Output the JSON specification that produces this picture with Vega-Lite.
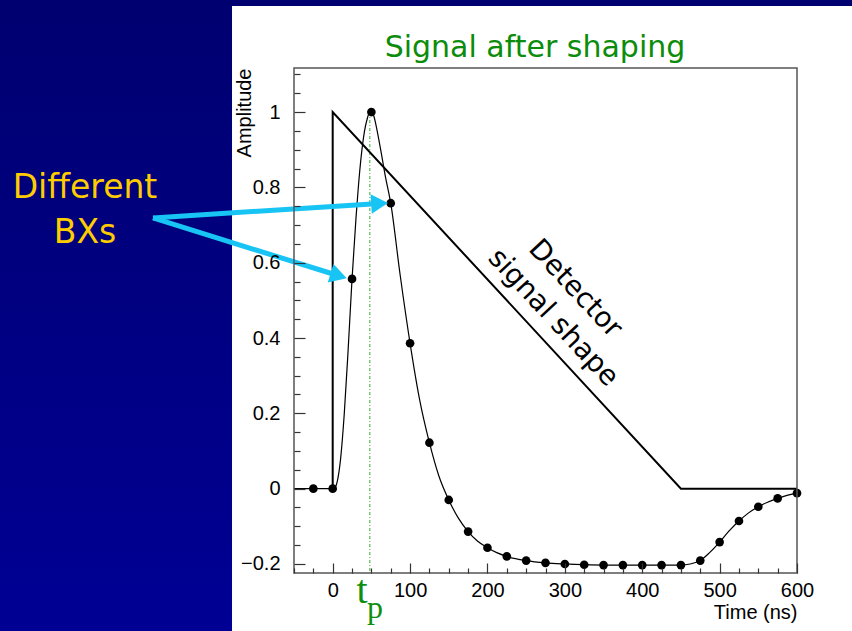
{
  "$schema": "https://vega.github.io/schema/vega-lite/v6.json",
  "width": 503,
  "height": 505,
  "autosize": {"type": "none"},
  "padding": {"left": 294, "top": 68, "right": 55, "bottom": 58},
  "background": "#000080",
  "config": {"view": {"stroke": null}},
  "resolve": {"axis": {"x": "independent", "y": "independent"}},
  "datasets": {
    "curve": [
      {"t": -50, "a": 0}, {"t": -25, "a": 0}, {"t": 0, "a": 0}, {"t": 3, "a": 0.003}, {"t": 6, "a": 0.02},
      {"t": 10, "a": 0.075}, {"t": 15, "a": 0.2}, {"t": 20, "a": 0.37}, {"t": 25, "a": 0.557}, {"t": 30, "a": 0.715},
      {"t": 35, "a": 0.845}, {"t": 40, "a": 0.935}, {"t": 45, "a": 0.985}, {"t": 48, "a": 1.0}, {"t": 50, "a": 1.0},
      {"t": 53, "a": 0.99}, {"t": 57, "a": 0.955}, {"t": 62, "a": 0.9}, {"t": 68, "a": 0.83}, {"t": 75, "a": 0.758},
      {"t": 87, "a": 0.57}, {"t": 100, "a": 0.386}, {"t": 112, "a": 0.24}, {"t": 125, "a": 0.122}, {"t": 137, "a": 0.035},
      {"t": 150, "a": -0.03}, {"t": 162, "a": -0.077}, {"t": 175, "a": -0.114}, {"t": 187, "a": -0.139}, {"t": 200, "a": -0.157},
      {"t": 212, "a": -0.17}, {"t": 225, "a": -0.18}, {"t": 250, "a": -0.191}, {"t": 275, "a": -0.197}, {"t": 300, "a": -0.2},
      {"t": 325, "a": -0.202}, {"t": 350, "a": -0.203}, {"t": 375, "a": -0.203}, {"t": 400, "a": -0.203}, {"t": 425, "a": -0.203},
      {"t": 450, "a": -0.203}, {"t": 462, "a": -0.2}, {"t": 475, "a": -0.191}, {"t": 487, "a": -0.17}, {"t": 500, "a": -0.142},
      {"t": 512, "a": -0.113}, {"t": 525, "a": -0.086}, {"t": 537, "a": -0.065}, {"t": 550, "a": -0.048}, {"t": 562, "a": -0.036},
      {"t": 575, "a": -0.026}, {"t": 587, "a": -0.018}, {"t": 600, "a": -0.012}
    ],
    "dots": [
      {"t": -25, "a": 0}, {"t": 0, "a": 0}, {"t": 25, "a": 0.557}, {"t": 50, "a": 1.0}, {"t": 75, "a": 0.758},
      {"t": 100, "a": 0.386}, {"t": 125, "a": 0.122}, {"t": 150, "a": -0.03}, {"t": 175, "a": -0.114}, {"t": 200, "a": -0.157},
      {"t": 225, "a": -0.18}, {"t": 250, "a": -0.191}, {"t": 275, "a": -0.197}, {"t": 300, "a": -0.2}, {"t": 325, "a": -0.202},
      {"t": 350, "a": -0.203}, {"t": 375, "a": -0.203}, {"t": 400, "a": -0.203}, {"t": 425, "a": -0.203}, {"t": 450, "a": -0.203},
      {"t": 475, "a": -0.191}, {"t": 500, "a": -0.142}, {"t": 525, "a": -0.086}, {"t": 550, "a": -0.048}, {"t": 575, "a": -0.026},
      {"t": 600, "a": -0.012}
    ],
    "detector": [
      {"t": 0, "a": 0, "o": 0}, {"t": 0, "a": 1, "o": 1}, {"t": 450, "a": 0, "o": 2}, {"t": 600, "a": 0, "o": 3}
    ]
  },
  "layer": [
    {
      "data": {"values": [{}]},
      "mark": {"type": "rect", "color": {"gradient": "linear", "x1": 0, "y1": 0, "x2": 0, "y2": 1, "stops": [{"offset": 0, "color": "#000070"}, {"offset": 1, "color": "#000094"}]}},
      "encoding": {
        "x": {"datum": -431, "type": "quantitative", "axis": null},
        "x2": {"datum": 671},
        "y": {"datum": 1.2977, "type": "quantitative", "axis": null},
        "y2": {"datum": -0.378}
      }
    },
    {
      "data": {"values": [{}]},
      "mark": {"type": "rect", "color": "#ffffff"},
      "encoding": {
        "x": {"datum": -130.1, "type": "quantitative", "axis": null},
        "x2": {"datum": 700},
        "y": {"datum": 1.2817, "type": "quantitative", "axis": null},
        "y2": {"datum": -0.5}
      }
    },
    {
      "data": {"values": [{}]},
      "mark": {"type": "rule", "color": "#33aa33", "strokeWidth": 1, "strokeDash": [3, 2, 1, 2]},
      "encoding": {
        "x": {"datum": 48, "type": "quantitative", "axis": null},
        "y": {"datum": 1.0, "type": "quantitative", "axis": null},
        "y2": {"datum": -0.224}
      }
    },
    {
      "data": {"name": "detector"},
      "mark": {"type": "line", "color": "#000000", "strokeWidth": 2},
      "encoding": {
        "x": {"field": "t", "type": "quantitative", "axis": null},
        "y": {"field": "a", "type": "quantitative", "axis": null},
        "order": {"field": "o", "type": "quantitative"}
      }
    },
    {
      "data": {"name": "curve"},
      "mark": {"type": "line", "color": "#000000", "strokeWidth": 1.2, "interpolate": "monotone"},
      "encoding": {
        "x": {
          "field": "t", "type": "quantitative",
          "scale": {"domain": [-50, 600], "nice": false, "zero": false},
          "axis": {
            "orient": "bottom",
            "values": [0, 100, 200, 300, 400, 500, 600],
            "format": "d",
            "tickSize": -10,
            "tickColor": "#333333", "tickWidth": 1.2, "domain": false, "grid": false,
            "labelFont": "Liberation Sans", "labelFontSize": 20, "labelColor": "#000000", "labelPadding": 17,
            "labelFlush": false, "labelOverlap": false, "labelBound": false,
            "title": "Time (ns)", "titleFont": "Liberation Sans", "titleFontSize": 20, "titleFontWeight": "normal",
            "titleColor": "#000000", "titleAnchor": "end", "titleAlign": "right", "titlePadding": 2, "zindex": 1
          }
        },
        "y": {
          "field": "a", "type": "quantitative",
          "scale": {"domain": [-0.224, 1.117], "nice": false, "zero": false},
          "axis": {
            "orient": "left",
            "values": [-0.2, 0, 0.2, 0.4, 0.6, 0.8, 1],
            "format": "~g",
            "tickSize": -11,
            "tickColor": "#333333", "tickWidth": 1.2, "domain": false, "grid": false,
            "labelFont": "Liberation Sans", "labelFontSize": 20, "labelColor": "#000000", "labelPadding": 25,
            "labelFlush": false, "labelOverlap": false, "labelBound": false,
            "title": "Amplitude", "titleFont": "Liberation Sans", "titleFontSize": 20, "titleFontWeight": "normal",
            "titleColor": "#000000", "titleAnchor": "end", "titleAlign": "right", "titleBaseline": "bottom", "titlePadding": -14, "zindex": 1
          }
        }
      }
    },
    {
      "data": {"name": "dots"},
      "mark": {"type": "point", "filled": true, "color": "#000000", "size": 75, "opacity": 1},
      "encoding": {
        "x": {
          "field": "t", "type": "quantitative",
          "axis": {
            "orient": "bottom",
            "values": [-50, -25, 25, 50, 75, 125, 150, 175, 225, 250, 275, 325, 350, 375, 425, 450, 475, 525, 550, 575],
            "tickSize": -5, "tickColor": "#333333", "tickWidth": 1.2,
            "domain": false, "grid": false, "labels": false, "title": null, "zindex": 1
          }
        },
        "y": {
          "field": "a", "type": "quantitative",
          "axis": {
            "orient": "left",
            "values": [-0.15, -0.1, -0.05, 0.05, 0.1, 0.15, 0.25, 0.3, 0.35, 0.45, 0.5, 0.55, 0.65, 0.7, 0.75, 0.85, 0.9, 0.95, 1.05, 1.1],
            "tickSize": -6, "tickColor": "#333333", "tickWidth": 1.2,
            "domain": false, "grid": false, "labels": false, "title": null, "zindex": 1
          }
        }
      }
    },
    {
      "data": {"values": [{}]},
      "mark": {"type": "text", "text": "Signal after shaping", "font": "DejaVu Sans", "fontSize": 30, "color": "#0b8c0b", "align": "center", "baseline": "alphabetic"},
      "encoding": {
        "x": {"datum": 261.4, "type": "quantitative", "axis": null},
        "y": {"datum": 1.1463, "type": "quantitative", "axis": null}
      }
    },
    {
      "data": {"values": [{}]},
      "mark": {"type": "text", "text": ["Different", "BXs"], "font": "DejaVu Sans", "fontSize": 33, "lineHeight": 45, "color": "#ffcc00", "align": "center", "baseline": "alphabetic"},
      "encoding": {
        "x": {"datum": -320.1, "type": "quantitative", "axis": null},
        "y": {"datum": 0.772, "type": "quantitative", "axis": null}
      }
    },
    {
      "data": {"values": [{}]},
      "mark": {"type": "text", "text": "Detector", "font": "DejaVu Sans", "fontSize": 28, "color": "#000000", "align": "center", "baseline": "middle", "angle": 47},
      "encoding": {
        "x": {"datum": 313.1, "type": "quantitative", "axis": null},
        "y": {"datum": 0.5303, "type": "quantitative", "axis": null}
      }
    },
    {
      "data": {"values": [{}]},
      "mark": {"type": "text", "text": "signal shape", "font": "DejaVu Sans", "fontSize": 28, "color": "#000000", "align": "center", "baseline": "middle", "angle": 47},
      "encoding": {
        "x": {"datum": 284.7, "type": "quantitative", "axis": null},
        "y": {"datum": 0.4533, "type": "quantitative", "axis": null}
      }
    },
    {
      "data": {"values": [{}]},
      "mark": {"type": "text", "text": "t", "font": "Liberation Serif", "fontSize": 40, "color": "#0f8f0f", "align": "center", "baseline": "alphabetic"},
      "encoding": {
        "x": {"datum": 37.9, "type": "quantitative", "axis": null},
        "y": {"datum": -0.3035, "type": "quantitative", "axis": null}
      }
    },
    {
      "data": {"values": [{}]},
      "mark": {"type": "text", "text": "p", "font": "Liberation Serif", "fontSize": 32, "color": "#0f8f0f", "align": "center", "baseline": "alphabetic"},
      "encoding": {
        "x": {"datum": 54.7, "type": "quantitative", "axis": null},
        "y": {"datum": -0.3433, "type": "quantitative", "axis": null}
      }
    },
    {
      "data": {"values": [{}]},
      "mark": {"type": "rule", "color": "#18c4f4", "strokeWidth": 5, "strokeCap": "butt"},
      "encoding": {
        "x": {"datum": -232.2, "type": "quantitative", "axis": null},
        "y": {"datum": 0.7188, "type": "quantitative", "axis": null},
        "x2": {"datum": 60.6},
        "y2": {"datum": 0.7573}
      }
    },
    {
      "data": {"values": [{}]},
      "mark": {"type": "rule", "color": "#18c4f4", "strokeWidth": 5, "strokeCap": "butt"},
      "encoding": {
        "x": {"datum": -232.2, "type": "quantitative", "axis": null},
        "y": {"datum": 0.7188, "type": "quantitative", "axis": null},
        "x2": {"datum": 7.75},
        "y2": {"datum": 0.5653}
      }
    },
    {
      "data": {"values": [{}]},
      "mark": {"type": "point", "shape": "triangle-right", "filled": true, "color": "#18c4f4", "opacity": 1, "size": 380, "angle": -3.65},
      "encoding": {
        "x": {"datum": 60.6, "type": "quantitative", "axis": null},
        "y": {"datum": 0.7573, "type": "quantitative", "axis": null}
      }
    },
    {
      "data": {"values": [{}]},
      "mark": {"type": "point", "shape": "triangle-right", "filled": true, "color": "#18c4f4", "opacity": 1, "size": 380, "angle": 17.3},
      "encoding": {
        "x": {"datum": 7.75, "type": "quantitative", "axis": null},
        "y": {"datum": 0.5653, "type": "quantitative", "axis": null}
      }
    },
    {
      "data": {"values": [{}]},
      "mark": {"type": "rect", "fillOpacity": 0, "stroke": "#555555", "strokeWidth": 1.5},
      "encoding": {
        "x": {"datum": -50, "type": "quantitative", "axis": null},
        "x2": {"datum": 600},
        "y": {"datum": -0.224, "type": "quantitative", "axis": null},
        "y2": {"datum": 1.117}
      }
    }
  ]
}
